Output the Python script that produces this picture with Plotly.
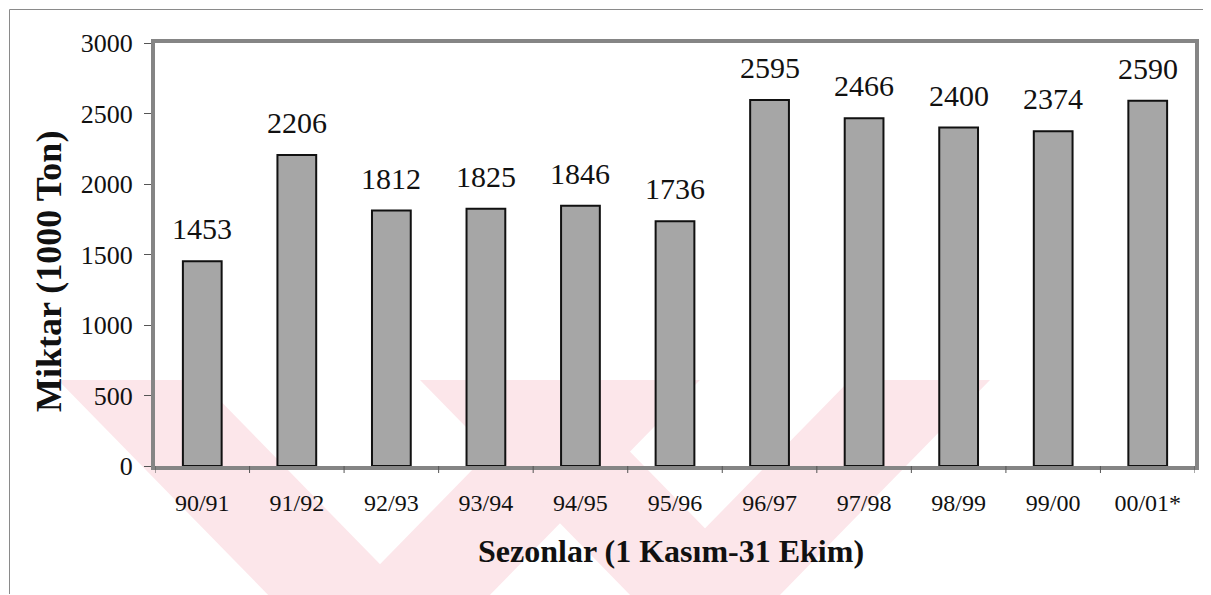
import plotly.graph_objects as go

seasons = ["90/91", "91/92", "92/93", "93/94", "94/95", "95/96", "96/97", "97/98", "98/99", "99/00", "00/01*"]
amounts = [1453, 2206, 1812, 1825, 1846, 1736, 2595, 2466, 2400, 2374, 2590]
y_ticks = [0, 500, 1000, 1500, 2000, 2500, 3000]

FONT = "Liberation Serif, Times New Roman, serif"
OFF = 8                      # page body margin
W, H = 1211 - OFF, 595 - OFF
L, R, T, B = 155, 1195, 43, 466  # plot area in screen pixels

def px(x):
    return (x - L) / (R - L)

def py(y):
    return (B - y) / (B - T)

fig = go.Figure()
fig.add_trace(go.Bar(
    x=list(range(len(seasons))), y=amounts,
    width=0.41,
    marker=dict(color="#a6a6a6", line=dict(color="#111111", width=2)),
    hoverinfo="x+y",
))

for i, v in enumerate(amounts):
    fig.add_annotation(x=i, y=v, text=str(v), showarrow=False,
                       xanchor="center", yanchor="bottom", yshift=14,
                       font=dict(family=FONT, size=30, color="#111111"))

fig.update_layout(
    width=W, height=H,
    margin=dict(l=L - OFF, r=1211 - R, t=T - OFF, b=595 - B),
    paper_bgcolor="white", plot_bgcolor="rgba(0,0,0,0)",
    showlegend=False,
    font=dict(family=FONT, color="#111111"),
)
fig.update_xaxes(
    range=[-0.5, len(seasons) - 0.5],
    tickmode="array", tickvals=list(range(len(seasons))), ticktext=seasons,
    tickfont=dict(size=24, family=FONT, color="#111111"),
    showline=True, linecolor="#858585", linewidth=4, mirror=True,
    ticks="", ticklabelstandoff=12, showgrid=False, zeroline=False,
)
fig.update_yaxes(
    range=[0, 3000], tickvals=y_ticks,
    tickfont=dict(size=26, family=FONT, color="#111111"),
    ticks="outside", ticklen=7, tickcolor="#555555", tickwidth=1,
    ticklabelstandoff=6,
    showline=True, linecolor="#858585", linewidth=4, mirror=True,
    showgrid=False, zeroline=False,
)

# faint watermark bands (screen-pixel polygons), opaque pale pink under everything
bands = [
    [(58, 380), (200, 380), (415, 600), (273, 600)],
    [(560, 380), (700, 380), (485, 600), (345, 600)],
    [(420, 380), (560, 380), (775, 600), (635, 600)],
    [(850, 380), (990, 380), (775, 600), (635, 600)],
]
for poly in bands:
    path = "M " + " L ".join(f"{px(x):.4f},{py(y):.4f}" for x, y in poly) + " Z"
    fig.add_shape(type="path", xref="paper", yref="paper", path=path,
                  fillcolor="#fce6ea", line=dict(width=0), layer="below")

# x tick marks at category boundaries
for i in range(len(seasons) + 1):
    fig.add_shape(type="line", xref="x", yref="paper",
                  x0=i - 0.5, x1=i - 0.5, y0=0, y1=-7 / (B - T),
                  line=dict(color="#555555", width=1))

fig.add_annotation(text="<b>Miktar (1000 Ton)</b>", xref="paper", yref="paper",
                   x=px(49), y=py(272), textangle=-90, showarrow=False,
                   font=dict(size=36, family=FONT), xanchor="center", yanchor="middle")
fig.add_annotation(text="<b>Sezonlar (1 Kasım-31 Ekim)</b>", xref="paper", yref="paper",
                   x=px(671), y=py(551), showarrow=False,
                   font=dict(size=32, family=FONT), xanchor="center", yanchor="middle")

# outer frame lines (kept inside the figure area)
for (x0, y0, x1, y1) in [(9.5, 9.5, 9.5, 594), (9.5, 9.5, 1207, 9.5), (1207, 9.5, 1207, 594)]:
    fig.add_shape(type="line", xref="paper", yref="paper",
                  x0=px(x0), y0=py(y0), x1=px(x1), y1=py(y1),
                  line=dict(color="#8a8a8a", width=1), layer="above")

fig.write_html("out.html")
